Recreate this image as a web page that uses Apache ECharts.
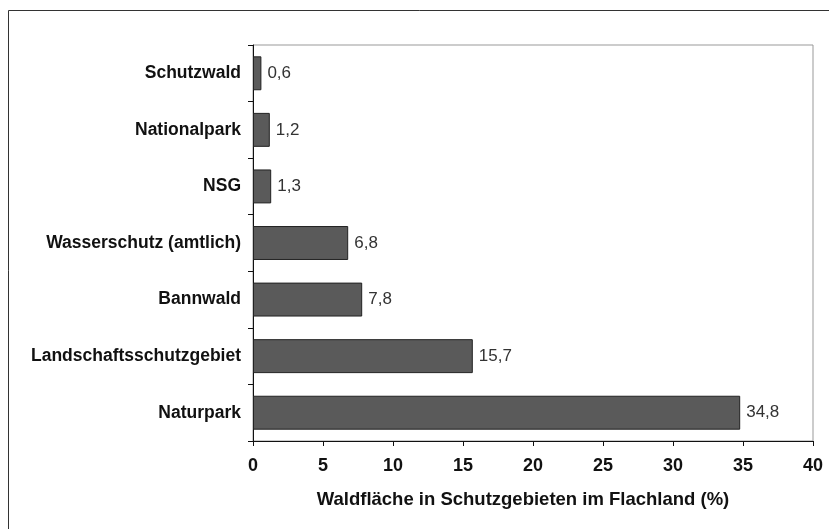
<!DOCTYPE html>
<html>
<head>
<meta charset="utf-8">
<script src="https://cdn.jsdelivr.net/npm/echarts@6/dist/echarts.min.js"></script>
<style>
  html, body { margin: 0; padding: 0; background: #fff; }
  #chart { width: 829px; height: 529px; }
</style>
</head>
<body>
<div id="chart"></div>
<script>
// categories top to bottom
const categories = ['Schutzwald', 'Nationalpark', 'NSG', 'Wasserschutz (amtlich)', 'Bannwald', 'Landschaftsschutzgebiet', 'Naturpark']
const values = [0.6, 1.2, 1.3, 6.8, 7.8, 15.7, 34.8]
const xTicks = { min: 0, max: 40, interval: 5 }
const axisTitle = 'Waldfläche in Schutzgebieten im Flachland (%)'

const font = '"Liberation Sans", Arial, sans-serif'

const chart = echarts.init(document.getElementById('chart'))
chart.setOption({
  animation: false,
  backgroundColor: '#fff',
  graphic: [{
    type: 'rect',
    shape: { x: 8.5, y: 10.5, width: 900, height: 700 },
    style: { fill: 'none', stroke: '#333', lineWidth: 1 },
    silent: true
  }],
  grid: {
    left: 253, right: 16, top: 45, bottom: 88,
    show: true, borderColor: '#999', borderWidth: 1
  },
  xAxis: {
    type: 'value',
    min: xTicks.min, max: xTicks.max, interval: xTicks.interval,
    name: axisTitle,
    nameLocation: 'middle',
    nameGap: 49,
    nameTextStyle: { fontFamily: font, fontSize: 18.5, fontWeight: 'bold', color: '#111', padding: [0, 20, 0, 0] },
    splitLine: { show: false },
    axisLine: { show: true, lineStyle: { color: '#111', width: 1 } },
    axisTick: { show: true, length: 5, lineStyle: { color: '#111' } },
    axisLabel: { margin: 16, fontFamily: font, fontSize: 18, fontWeight: 'bold', color: '#111' }
  },
  yAxis: {
    type: 'category',
    data: categories,
    inverse: true,
    axisLine: { show: true, lineStyle: { color: '#111', width: 1 } },
    axisTick: { show: true, length: 5, lineStyle: { color: '#111' } },
    axisLabel: { margin: 12, fontFamily: font, fontSize: 17.5, fontWeight: 'bold', color: '#111' }
  },
  series: [{
    type: 'bar',
    data: values,
    barCategoryGap: '40%',
    itemStyle: { color: '#5a5a5a', borderColor: '#222', borderWidth: 1 },
    label: {
      show: true,
      position: 'right',
      distance: 6,
      fontFamily: font,
      fontSize: 17,
      color: '#333',
      formatter: p => String(p.value).replace('.', ',')
    }
  }]
})
</script>
</body>
</html>
